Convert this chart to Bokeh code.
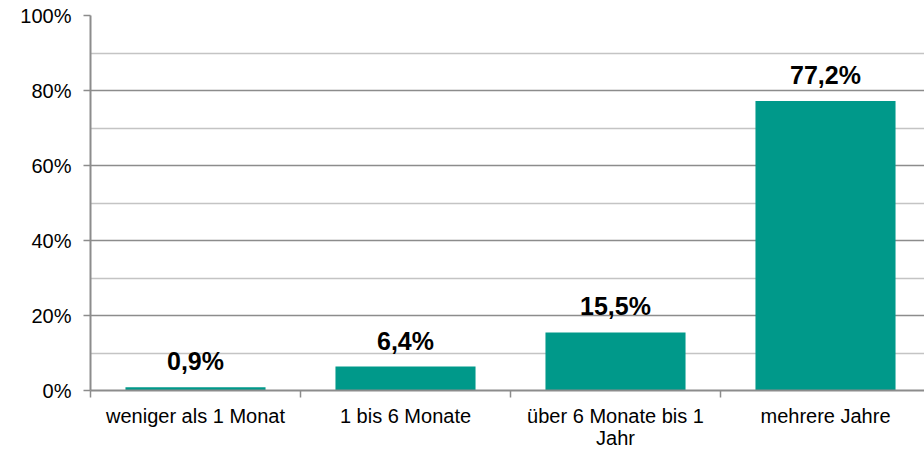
from bokeh.plotting import figure
from bokeh.models import ColumnDataSource, Range1d, FixedTicker, LabelSet, LinearAxis
from bokeh.core.properties import value
from bokeh.embed import file_html
from bokeh.resources import INLINE

categories = ["weniger als 1 Monat", "1 bis 6 Monate", "über 6 Monate bis 1", "mehrere Jahre"]
categories_line2 = ["", "", "Jahr", ""]
values = [0.9, 6.4, 15.5, 77.2]
value_labels = ["0,9%", "6,4%", "15,5%", "77,2%"]
y_ticks = [0, 20, 40, 60, 80, 100]
y_minor = [10, 30, 50, 70, 90]

FONT = "Liberation Sans"
BAR = "#00998A"
FS = "20px"

xs = [i + 0.5 for i in range(len(categories))]
src = ColumnDataSource(dict(x=xs, top=values, lab=value_labels))

p = figure(output_backend="svg", toolbar_location=None,
           frame_width=834, frame_height=375,
           min_border_left=90, min_border_right=0, min_border_top=15, min_border_bottom=0,
           x_range=Range1d(0, 834 / 210), y_range=Range1d(0, 100))
p.outline_line_color = None
p.background_fill_color = "white"
p.border_fill_color = "white"

p.vbar(x="x", top="top", width=0.667, bottom=0, source=src, fill_color=BAR, line_color=None)

labels = LabelSet(x="x", y="top", text="lab", source=src, text_align="center",
                  text_baseline="alphabetic", y_offset=17, text_font=value(FONT),
                  text_font_size=value("25px"), text_font_style=value("bold"),
                  text_color=value("black"))
p.add_layout(labels)

# x axis
p.xaxis.ticker = FixedTicker(ticks=xs, minor_ticks=[0, 1, 2, 3, 4])
p.xaxis.major_label_overrides = {x: c for x, c in zip(xs, categories)}
p.xaxis.major_tick_line_color = None
p.xaxis.major_tick_out = 0
p.xaxis.major_tick_in = 0
p.xaxis.minor_tick_line_color = "#8c8c8c"
p.xaxis.minor_tick_line_width = 1.5
p.xaxis.minor_tick_out = 7
p.xaxis.minor_tick_in = 0
p.xaxis.axis_line_color = "#8c8c8c"
p.xaxis.axis_line_width = 2
p.xaxis.major_label_text_font = FONT
p.xaxis.major_label_text_font_size = FS
p.xaxis.major_label_text_color = "black"
p.xaxis.major_label_standoff = 7

# second line of category labels
ax2 = LinearAxis(ticker=FixedTicker(ticks=xs, minor_ticks=[]),
                 major_label_overrides={x: c for x, c in zip(xs, categories_line2)})
ax2.axis_line_color = None
ax2.major_tick_line_color = None
ax2.minor_tick_line_color = None
ax2.major_tick_out = 0
ax2.major_tick_in = 0
ax2.major_label_standoff = -3
ax2.major_label_text_font = FONT
ax2.major_label_text_font_size = FS
ax2.major_label_text_color = "black"
p.add_layout(ax2, "below")

# y axis
p.yaxis.ticker = FixedTicker(ticks=y_ticks, minor_ticks=y_minor)
p.yaxis.major_label_overrides = {t: f"{t}%" for t in y_ticks}
p.yaxis.major_tick_line_color = "#8c8c8c"
p.yaxis.major_tick_line_width = 1.5
p.yaxis.major_tick_out = 7
p.yaxis.major_tick_in = 0
p.yaxis.minor_tick_line_color = None
p.yaxis.axis_line_color = "#8c8c8c"
p.yaxis.axis_line_width = 2
p.yaxis.major_label_text_font = FONT
p.yaxis.major_label_text_font_size = FS
p.yaxis.major_label_text_color = "black"
p.yaxis.major_label_standoff = 12

p.xgrid.grid_line_color = None
p.ygrid.ticker = FixedTicker(ticks=y_ticks, minor_ticks=y_minor)
p.ygrid.grid_line_color = "#8c8c8c"
p.ygrid.grid_line_width = 1.5
p.ygrid.minor_grid_line_color = "#c4c4c4"
p.ygrid.minor_grid_line_width = 1.5

open("out.html", "w").write(file_html(p, INLINE))
